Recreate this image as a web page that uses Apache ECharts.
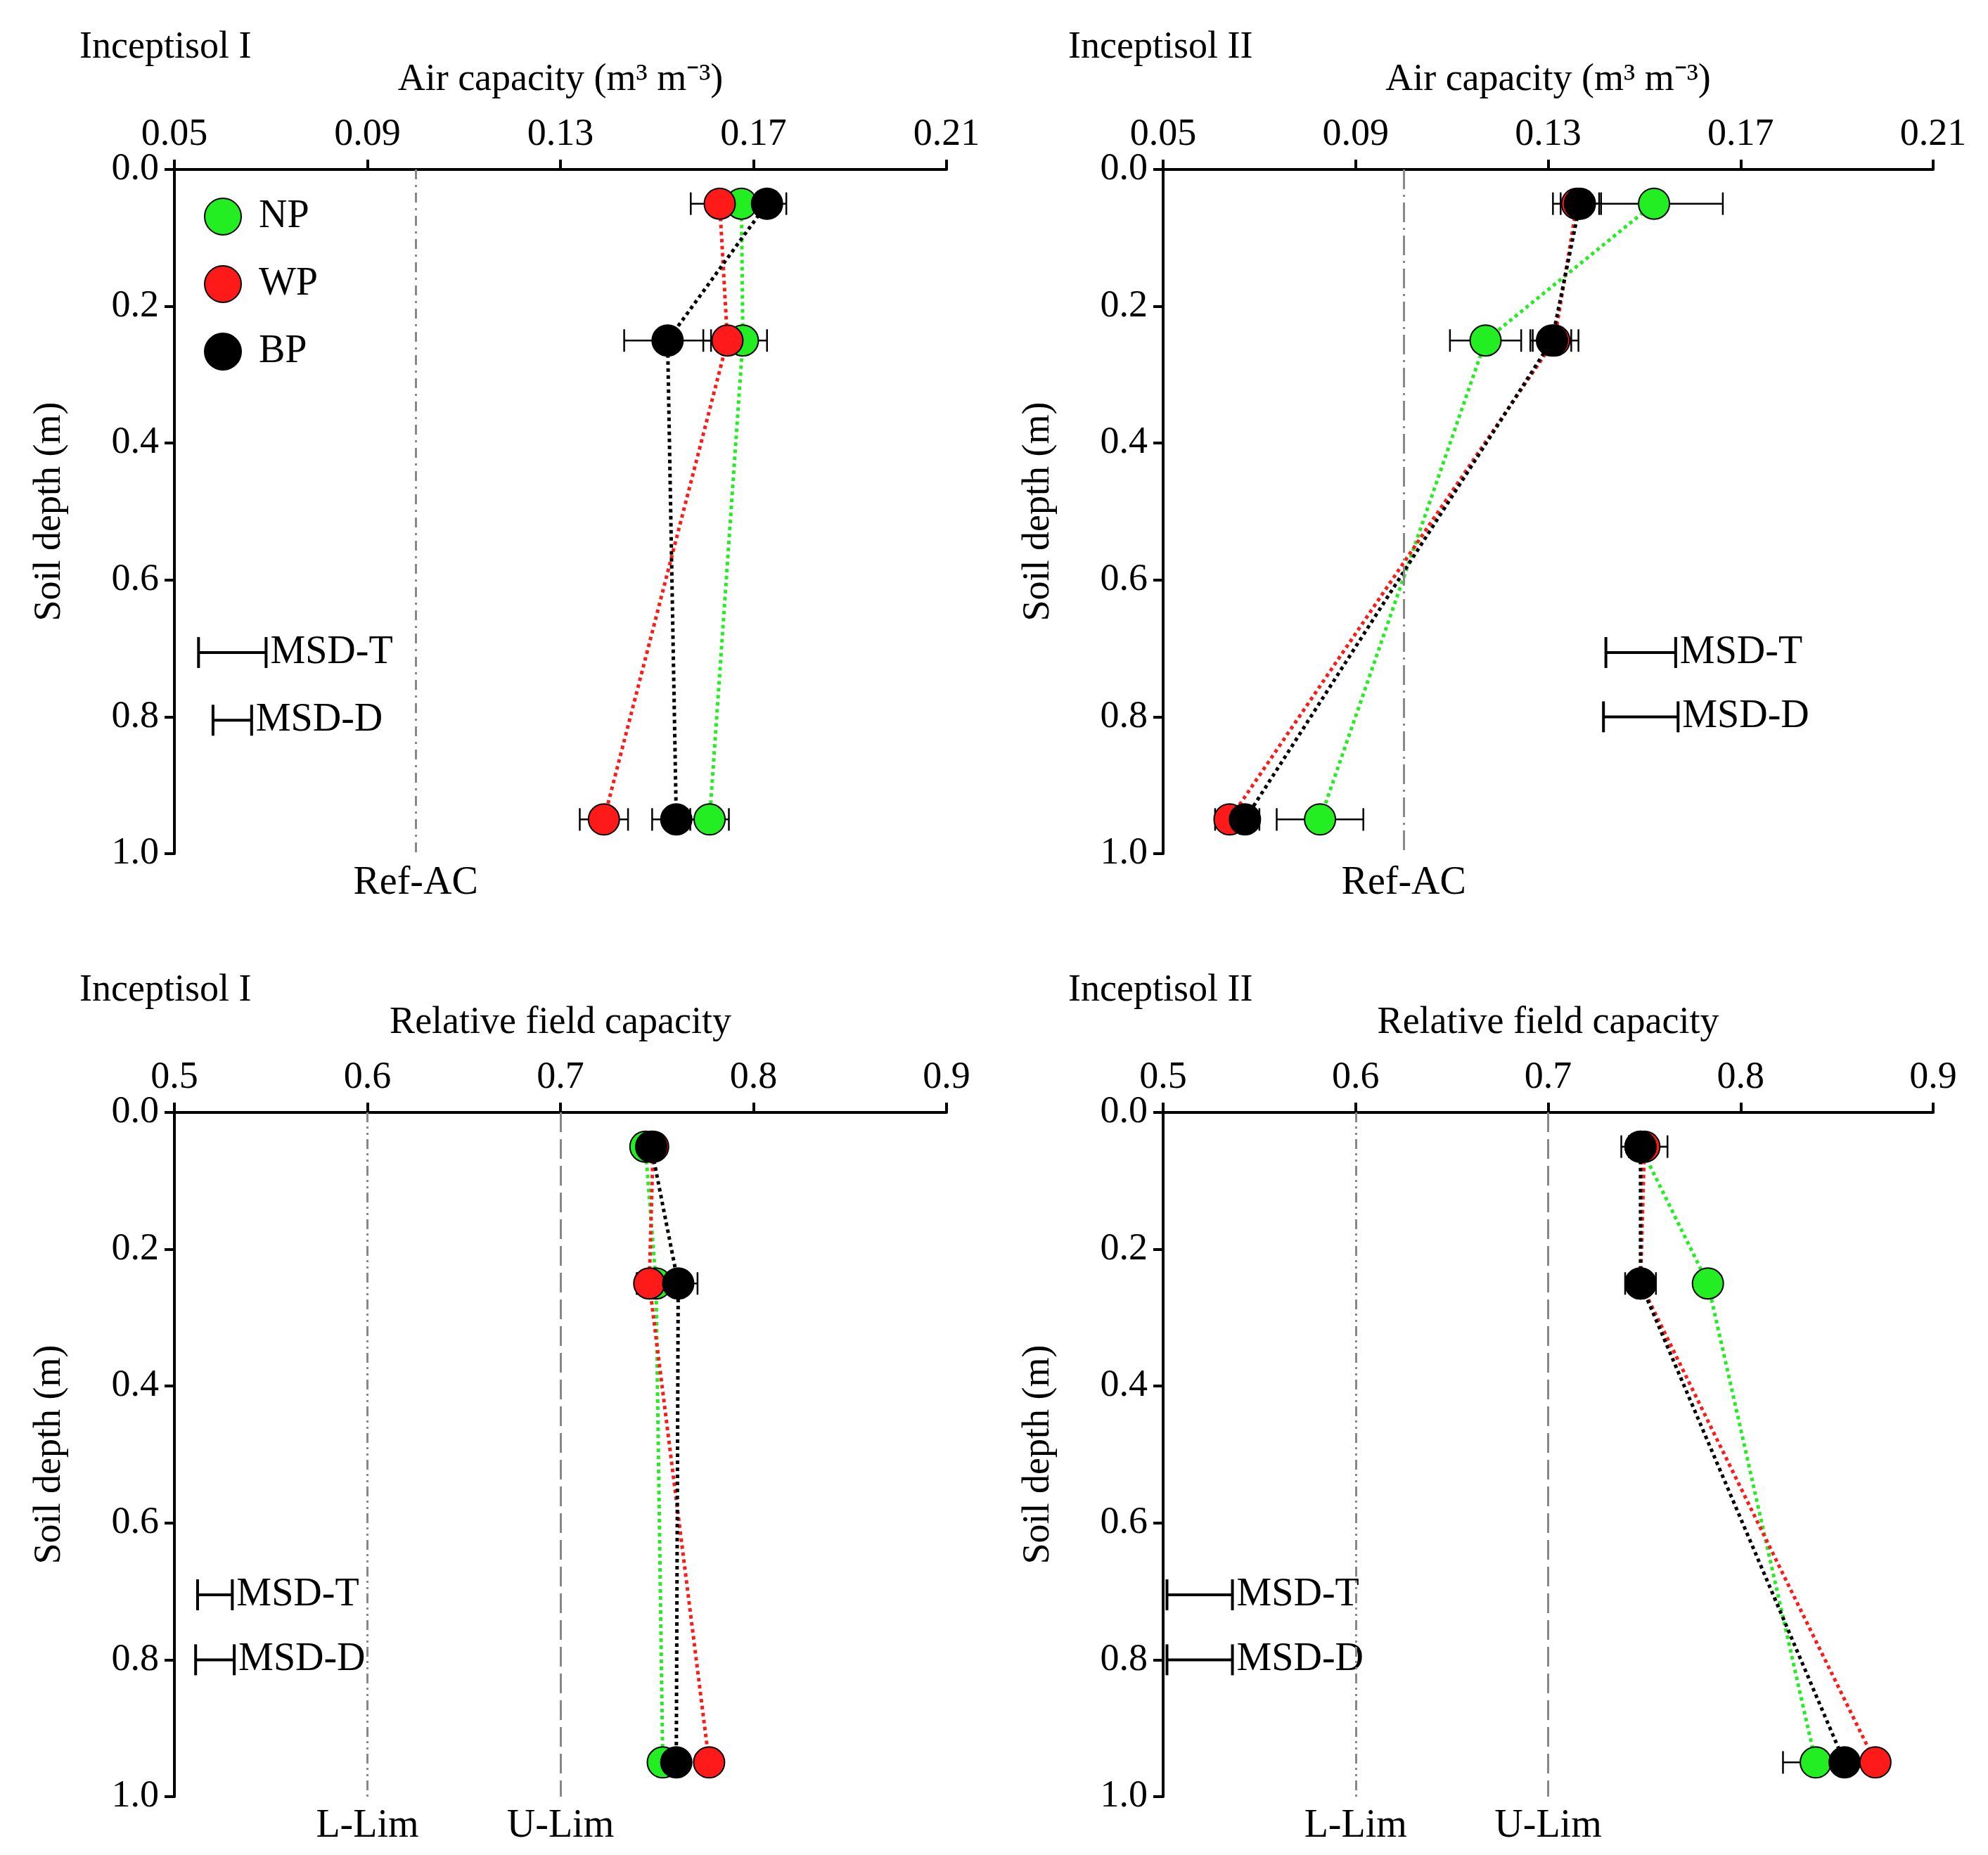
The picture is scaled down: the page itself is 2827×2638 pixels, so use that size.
<!DOCTYPE html>
<html>
<head>
<meta charset="utf-8">
<script src="https://cdn.jsdelivr.net/npm/echarts@6/dist/echarts.min.js"></script>
<style>html,body{margin:0;padding:0;background:#fff}#main{width:2827px;height:2638px}</style>
</head>
<body>
<div id="main"></div>
<script>
var chart = echarts.init(document.getElementById('main'));

var depths = [0.05, 0.25, 0.95];
var names = ['NP', 'WP', 'BP'];
var colors = ['#22ee22', '#ff1a1a', '#000000'];

// panel 0: Air capacity Inceptisol I
var acI = { NP: [0.1675, 0.1678, 0.1609], WP: [0.1630, 0.1646, 0.1390], BP: [0.1728, 0.1522, 0.1540] };
var acIErr = { NP: [0.004, 0.005, 0.004], WP: [0.006, 0.005, 0.005], BP: [0.004, 0.009, 0.005] };
// panel 1: Air capacity Inceptisol II
var acII = { NP: [0.1520, 0.1170, 0.0826], WP: [0.1360, 0.1313, 0.0638], BP: [0.1366, 0.1308, 0.0670] };
var acIIErr = { NP: [0.0143, 0.0074, 0.009], WP: [0.005, 0.005, 0.003], BP: [0.004, 0.004, 0.003] };
// panel 2: Relative field capacity Inceptisol I
var rfI = { NP: [0.744, 0.7495, 0.753], WP: [0.748, 0.746, 0.777], BP: [0.747, 0.761, 0.760] };
var rfIErr = { NP: [0.004, 0.010, 0.003], WP: [0.005, 0.006, 0.004], BP: [0.004, 0.010, 0.004] };
// panel 3: Relative field capacity Inceptisol II
var rfII = { NP: [0.748, 0.783, 0.839], WP: [0.750, 0.748, 0.870], BP: [0.748, 0.748, 0.854] };
var rfIIErr = { NP: [0.006, 0.004, 0.017], WP: [0.012, 0.004, 0.005], BP: [0.006, 0.008, 0.005] };

// MSD bars [xStart, xEnd, depth]
var msd = [
  { T: [0.055, 0.069, 0.706], D: [0.058, 0.066, 0.805] },
  { T: [0.142, 0.1565, 0.706], D: [0.1415, 0.157, 0.800] },
  { T: [0.512, 0.530, 0.705], D: [0.511, 0.531, 0.800] },
  { T: [0.502, 0.536, 0.705], D: [0.502, 0.536, 0.800] }
];

var panels = [
  { data: acI, err: acIErr, min: 0.05, max: 0.21, step: 0.04, dec: 2, title: 'Inceptisol I', xname: 'Air capacity (m\u00b3 m\u207b\u00b3)',
    refs: [{ x: 0.1, label: 'Ref-AC', type: [14, 8, 3, 8] }] },
  { data: acII, err: acIIErr, min: 0.05, max: 0.21, step: 0.04, dec: 2, title: 'Inceptisol II', xname: 'Air capacity (m\u00b3 m\u207b\u00b3)',
    refs: [{ x: 0.1, label: 'Ref-AC', type: [28, 8, 3, 8] }] },
  { data: rfI, err: rfIErr, min: 0.5, max: 0.9, step: 0.1, dec: 1, title: 'Inceptisol I', xname: 'Relative field capacity',
    refs: [{ x: 0.6, label: 'L-Lim', type: [14, 6, 3, 6, 3, 6] }, { x: 0.7, label: 'U-Lim', type: [28, 10] }] },
  { data: rfII, err: rfIIErr, min: 0.5, max: 0.9, step: 0.1, dec: 1, title: 'Inceptisol II', xname: 'Relative field capacity',
    refs: [{ x: 0.6, label: 'L-Lim', type: [14, 6, 3, 6, 3, 6] }, { x: 0.7, label: 'U-Lim', type: [28, 10] }] }
];

var font = 'Liberation Serif';
var grids = [
  { left: 248, top: 241, width: 1098, height: 973 },
  { left: 1654, top: 241, width: 1095, height: 973 },
  { left: 248, top: 1582, width: 1098, height: 973 },
  { left: 1654, top: 1582, width: 1095, height: 973 }
];

var xAxes = [], yAxes = [], series = [], titles = [];
panels.forEach(function (p, i) {
  titles.push({ text: p.title, left: grids[i].left - 140, top: grids[i].top - 205,
    textStyle: { fontFamily: font, fontSize: 54, fontWeight: 'normal', color: '#000' } });
  xAxes.push({
    type: 'value', gridIndex: i, position: 'top', min: p.min, max: p.max, interval: p.step,
    name: p.xname, nameLocation: 'middle', nameGap: 100,
    nameTextStyle: { fontFamily: font, fontSize: 54, color: '#000' },
    axisLine: { lineStyle: { color: '#000', width: 4 } },
    axisTick: { inside: false, length: 14, lineStyle: { width: 4 } },
    axisLabel: { fontFamily: font, fontSize: 54, color: '#000', margin: 22,
      formatter: function (v) { return v.toFixed(p.dec); } },
    splitLine: { show: false }
  });
  yAxes.push({
    type: 'value', gridIndex: i, inverse: true, min: 0, max: 1, interval: 0.2,
    name: 'Soil depth (m)', nameLocation: 'middle', nameGap: 150, nameRotate: 90,
    nameTextStyle: { fontFamily: font, fontSize: 54, color: '#000' },
    axisLine: { lineStyle: { color: '#000', width: 4 } },
    axisTick: { length: 14, lineStyle: { width: 4 } },
    axisLabel: { fontFamily: font, fontSize: 54, color: '#000', margin: 22,
      formatter: function (v) { return v.toFixed(1); } },
    splitLine: { show: false }
  });

  // reference lines
  series.push({
    type: 'line', xAxisIndex: i, yAxisIndex: i, data: [], silent: true,
    markLine: {
      symbol: 'none', silent: true, animation: false,
      data: p.refs.map(function (r) {
        return [{ coord: [r.x, 0], lineStyle: { color: '#888', width: 3, type: r.type },
                  label: { show: true, position: 'end', formatter: r.label, distance: 14,
                           fontFamily: font, fontSize: 56, color: '#000' } },
                { coord: [r.x, 1] }];
      })
    }
  });

  // MSD bars
  var m = msd[i];
  series.push({
    type: 'custom', xAxisIndex: i, yAxisIndex: i, silent: true,
    data: [[m.T[0], m.T[1], m.T[2], 'MSD-T'], [m.D[0], m.D[1], m.D[2], 'MSD-D']],
    renderItem: function (params, api) {
      var a = api.coord([api.value(0), api.value(2)]);
      var b = api.coord([api.value(1), api.value(2)]);
      var st = { stroke: '#000', lineWidth: 4 };
      return { type: 'group', children: [
        { type: 'line', shape: { x1: a[0], y1: a[1], x2: b[0], y2: b[1] }, style: st },
        { type: 'line', shape: { x1: a[0], y1: a[1] - 22, x2: a[0], y2: a[1] + 22 }, style: st },
        { type: 'line', shape: { x1: b[0], y1: b[1] - 22, x2: b[0], y2: b[1] + 22 }, style: st },
        { type: 'text', style: { text: api.value(3), x: b[0] + 6, y: b[1], textVerticalAlign: 'middle',
            font: '56px "Liberation Serif"', fill: '#000' } }
      ] };
    }
  });

  names.forEach(function (n, k) {
    var vals = p.data[n], errs = p.err[n];
    series.push({
      type: 'custom', xAxisIndex: i, yAxisIndex: i, silent: true, z: 3,
      data: vals.map(function (v, j) { return [v - errs[j], v + errs[j], depths[j]]; }),
      renderItem: function (params, api) {
        var a = api.coord([api.value(0), api.value(2)]);
        var b = api.coord([api.value(1), api.value(2)]);
        var st = { stroke: '#000', lineWidth: 2.5 };
        return { type: 'group', children: [
          { type: 'line', shape: { x1: a[0], y1: a[1], x2: b[0], y2: b[1] }, style: st },
          { type: 'line', shape: { x1: a[0], y1: a[1] - 16, x2: a[0], y2: a[1] + 16 }, style: st },
          { type: 'line', shape: { x1: b[0], y1: b[1] - 16, x2: b[0], y2: b[1] + 16 }, style: st }
        ] };
      }
    });
    series.push({
      type: 'line', name: n, xAxisIndex: i, yAxisIndex: i, z: 4,
      data: vals.map(function (v, j) { return [v, depths[j]]; }),
      symbol: 'circle', symbolSize: 44,
      lineStyle: { color: colors[k], width: 5, type: 'dotted' },
      itemStyle: { color: colors[k], borderColor: '#000', borderWidth: 2 }
    });
  });
});

chart.setOption({
  animation: false,
  backgroundColor: '#fff',
  title: titles,
  grid: grids,
  xAxis: xAxes,
  yAxis: yAxes,
  legend: {
    data: names, orient: 'vertical', left: 285, top: 275, itemGap: 40,
    icon: 'circle', itemWidth: 52, itemHeight: 52,
    textStyle: { fontFamily: font, fontSize: 56, color: '#000', padding: [0, 0, 0, 20] }
  },
  series: series
});
</script>
</body>
</html>
